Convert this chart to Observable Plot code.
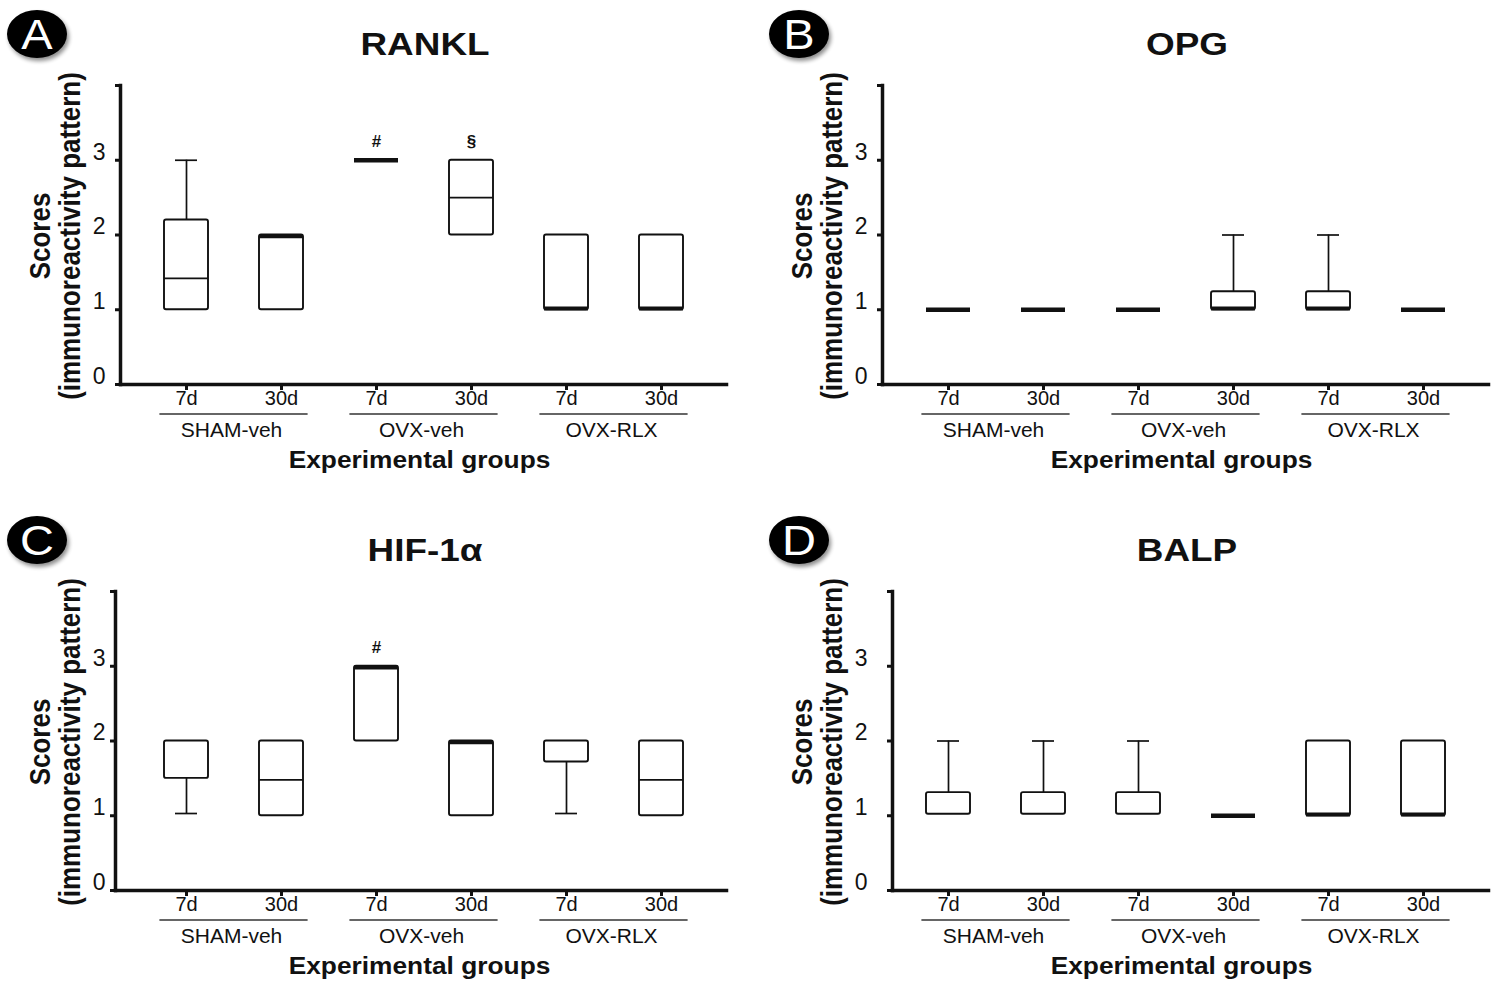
<!DOCTYPE html>
<html>
<head>
<meta charset="utf-8">
<script src="https://cdn.jsdelivr.net/npm/d3@7"></script>
<script src="https://cdn.jsdelivr.net/npm/@observablehq/plot@0.6"></script>
<style>
  body { margin: 0; background: #fff; }
  #wrap { position: relative; width: 1502px; height: 986px; overflow: hidden; background: #fff; }
  #wrap svg { position: absolute; }
</style>
</head>
<body>
<div id="wrap"></div>
<script>
// ---------- data ----------
const categories = ["SHAM-veh 7d", "SHAM-veh 30d", "OVX-veh 7d", "OVX-veh 30d", "OVX-RLX 7d", "OVX-RLX 30d"];
const timeLabels = ["7d", "30d", "7d", "30d", "7d", "30d"];
const groupLabels = ["SHAM-veh", "OVX-veh", "OVX-RLX"];
const yTickValues = [0, 1, 2, 3, 4];
const yTickLabels = ["0", "1", "2", "3", ""];
const panelLetters = ["A", "B", "C", "D"];
const panelTitles = ["RANKL", "OPG", "HIF-1α", "BALP"];
const yTitle1 = "Scores";
const yTitle2 = "(immunoreactivity pattern)";
const xTitle = "Experimental groups";

// RANKL
const ranklMin = [1, 1, 3, 2, 1, 1];
const ranklQ1  = [1, 1, 3, 2, 1, 1];
const ranklMed = [1.42, 2, 3, 2.5, 1, 1];
const ranklQ3  = [2.2, 2, 3, 3, 2, 2];
const ranklMax = [3, 2, 3, 3, 2, 2];
const ranklSig = [null, null, "#", "§", null, null];

// OPG
const opgMin = [1, 1, 1, 1, 1, 1];
const opgQ1  = [1, 1, 1, 1, 1, 1];
const opgMed = [1, 1, 1, 1, 1, 1];
const opgQ3  = [1, 1, 1, 1.24, 1.24, 1];
const opgMax = [1, 1, 1, 2, 2, 1];
const opgSig = [null, null, null, null, null, null];

// HIF-1α
const hifMin = [1.03, 1, 2, 1, 1.03, 1];
const hifQ1  = [1.5, 1, 2, 1, 1.72, 1];
const hifMed = [null, 1.48, 3, 2, null, 1.48];
const hifQ3  = [2, 2, 3, 2, 2, 2];
const hifMax = [2, 2, 3, 2, 2, 2];
const hifSig = [null, null, "#", null, null, null];

// BALP
const balpMin = [1.02, 1.02, 1.02, 1, 1, 1];
const balpQ1  = [1.02, 1.02, 1.02, 1, 1, 1];
const balpMed = [null, null, null, 1, 1, 1];
const balpQ3  = [1.31, 1.31, 1.31, 1, 2, 2];
const balpMax = [2, 2, 2, 1, 2, 2];
const balpSig = [null, null, null, null, null, null];

// ---------- layout ----------
const W = 740, H = 480;
const panels = [
  {left: 0,   top: 0,   axisX: 120, min: ranklMin, q1: ranklQ1, med: ranklMed, q3: ranklQ3, max: ranklMax, sig: ranklSig},
  {left: 762, top: 0,   axisX: 120, min: opgMin,   q1: opgQ1,   med: opgMed,   q3: opgQ3,   max: opgMax,   sig: opgSig},
  {left: 0,   top: 506, axisX: 115, min: hifMin,   q1: hifQ1,   med: hifMed,   q3: hifQ3,   max: hifMax,   sig: hifSig},
  {left: 762, top: 506, axisX: 130, min: balpMin,  q1: balpQ1,  med: balpMed,  q3: balpQ3,  max: balpMax,  sig: balpSig}
];

const FONT = "'Liberation Sans', Arial, Helvetica, sans-serif";
const wrap = document.getElementById("wrap");
const tickLabelOf = new Map(categories.map((c, i) => [c, timeLabels[i]]));
const yLabelOf = new Map(yTickValues.map((v, i) => [v, yTickLabels[i]]));

panels.forEach((p, pi) => {
  const rows = categories.map((c, i) => ({
    cat: c, min: p.min[i], q1: p.q1[i], med: p.med[i], q3: p.q3[i], max: p.max[i], sig: p.sig[i]
  }));
  const hasBox = d => d.q3 > d.q1;
  const lw = 1.7;

  const plot = Plot.plot({
    width: W, height: H,
    marginLeft: p.axisX, marginRight: W - 726, marginTop: 85, marginBottom: H - 384,
    style: {fontFamily: FONT, fontSize: "21px", background: "transparent", color: "#111", overflow: "visible"},
    x: {type: "band", domain: categories, range: [120, 726], paddingInner: 0.54, paddingOuter: 0.433, align: 0.5, label: null},
    y: {domain: [0, 4], label: null},
    marks: [
      // whiskers
      Plot.ruleX(rows.filter(d => d.max > d.q3), {x: "cat", y1: "q3", y2: "max", stroke: "#111", strokeWidth: lw}),
      Plot.ruleX(rows.filter(d => d.min < d.q1), {x: "cat", y1: "min", y2: "q1", stroke: "#111", strokeWidth: lw}),
      Plot.tickY(rows.filter(d => d.max > d.q3), {x: "cat", y: "max", insetLeft: 11, insetRight: 11, stroke: "#111", strokeWidth: lw}),
      Plot.tickY(rows.filter(d => d.min < d.q1), {x: "cat", y: "min", insetLeft: 11, insetRight: 11, stroke: "#111", strokeWidth: lw}),
      // boxes
      Plot.barY(rows.filter(hasBox), {x: "cat", y1: "q1", y2: "q3", fill: "white", stroke: "#111", strokeWidth: 1.9, rx: 2}),
      // medians inside box
      Plot.tickY(rows.filter(d => d.med != null && d.med > d.q1 && d.med < d.q3), {x: "cat", y: "med", stroke: "#111", strokeWidth: lw}),
      // medians coinciding with box edges (heavy)
      Plot.tickY(rows.filter(d => d.med != null && hasBox(d) && d.med === d.q3), {x: "cat", y: "med", stroke: "#111", strokeWidth: 4, dy: 1.2}),
      Plot.tickY(rows.filter(d => d.med != null && hasBox(d) && d.med === d.q1), {x: "cat", y: "med", stroke: "#111", strokeWidth: 4, dy: -1.2}),
      // flat (all values equal)
      Plot.tickY(rows.filter(d => d.med != null && !hasBox(d)), {x: "cat", y: "med", stroke: "#111", strokeWidth: 4.5}),
      // significance symbols
      Plot.text(rows.filter(d => d.sig), {x: "cat", y: d => d.max + 0.25, text: "sig", fontSize: 17, fontWeight: "bold", fill: "#111"}),
      // axes: y ticks (no labels) and y labels (raised)
      Plot.axisY({ticks: yTickValues, tickFormat: () => "", tickSize: 5, strokeWidth: 3, label: null}),
      Plot.axisY({ticks: yTickValues, tickFormat: d => yLabelOf.get(d), tickSize: 0, tickPadding: p.axisX - 105,
                  fontSize: 23, dy: -8, label: null}),
      Plot.axisX({tickFormat: d => tickLabelOf.get(d), tickSize: 6, tickPadding: 0, fontSize: 20, strokeWidth: 3, label: null}),
      Plot.frame({anchor: "left", stroke: "#111", strokeWidth: 3.5}),
      Plot.frame({anchor: "bottom", stroke: "#111", strokeWidth: 3.5})
    ]
  });

  plot.style.left = p.left + "px";
  plot.style.top = p.top + "px";
  wrap.appendChild(plot);

  const svg = d3.select(plot);
  // enforce tick-label font sizes
  svg.selectAll('g[aria-label="y-axis tick label"]').attr("font-size", 23).selectAll("text").style("font-size", "23px");
  svg.selectAll('g[aria-label="x-axis tick label"]').attr("font-size", 20).selectAll("text").style("font-size", "20px");

  const xs = plot.scale("x");
  const bw = xs.bandwidth != null ? xs.bandwidth : 44;
  const center = c => xs.apply(c) + bw / 2;
  const step = center(categories[1]) - center(categories[0]);
  const ext = step * 0.28;

  const g = svg.append("g").attr("font-family", FONT).attr("fill", "#111");

  // group brackets + labels
  groupLabels.forEach((lab, gi) => {
    const a = center(categories[2 * gi]);
    const b = center(categories[2 * gi + 1]);
    g.append("line").attr("x1", a - ext).attr("x2", b + ext).attr("y1", 414).attr("y2", 414)
      .attr("stroke", "#333").attr("stroke-width", 1.6);
    g.append("text").attr("x", (a + b) / 2 - 2).attr("y", 437).attr("text-anchor", "middle")
      .attr("font-size", 21).text(lab);
  });

  // x title
  const xc = (center(categories[0]) + center(categories[5])) / 2 - 4;
  g.append("text").attr("transform", `translate(${xc},468) scale(1.12,1)`).attr("text-anchor", "middle")
    .attr("font-size", 23.5).attr("font-weight", "bold").text(xTitle);

  // y titles
  g.append("text").attr("transform", `translate(50,236) scale(1.15,1) rotate(-90)`).attr("text-anchor", "middle")
    .attr("font-size", 26).attr("font-weight", "bold").text(yTitle1);
  g.append("text").attr("transform", `translate(80,236) scale(1.15,1) rotate(-90)`).attr("text-anchor", "middle")
    .attr("font-size", 26).attr("font-weight", "bold").text(yTitle2);

  // panel title
  g.append("text").attr("transform", `translate(425,55) scale(1.19,1)`).attr("text-anchor", "middle")
    .attr("font-size", 31).attr("font-weight", "bold").text(panelTitles[pi]);

  // badge
  const defs = svg.append("defs");
  const fid = "shadow" + pi;
  const f = defs.append("filter").attr("id", fid).attr("x", "-30%").attr("y", "-30%").attr("width", "160%").attr("height", "160%");
  f.append("feGaussianBlur").attr("in", "SourceAlpha").attr("stdDeviation", 2.2).attr("result", "b");
  f.append("feOffset").attr("in", "b").attr("dx", 2).attr("dy", 3).attr("result", "o");
  f.append("feComponentTransfer").attr("in", "o").attr("result", "o2")
    .append("feFuncA").attr("type", "linear").attr("slope", 0.45);
  const m = f.append("feMerge");
  m.append("feMergeNode").attr("in", "o2");
  m.append("feMergeNode").attr("in", "SourceGraphic");
  const bg = svg.append("g").attr("transform", "translate(37,34)");
  bg.append("ellipse").attr("rx", 30).attr("ry", 24).attr("fill", "#050505").attr("filter", `url(#${fid})`);
  bg.append("text").attr("transform", "translate(0,15) scale(1.12,1)").attr("text-anchor", "middle")
    .attr("font-family", FONT).attr("font-size", 42).attr("fill", "#fff").text(panelLetters[pi]);
});
</script>
</body>
</html>
